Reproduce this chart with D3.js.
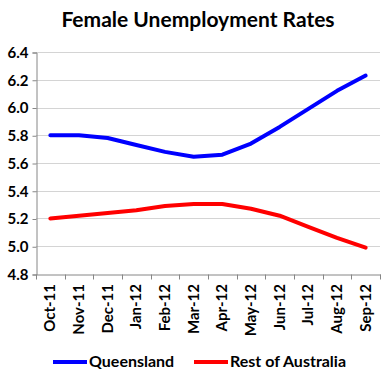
<!DOCTYPE html>
<html>
<meta charset="UTF-8" />
<script src="https://cdn.jsdelivr.net/npm/d3@7/dist/d3.min.js"></script>
<style>
*{margin:0; padding:0;}
body{background:#fff;}
text{font-family:Lato, "Open Sans", sans-serif; font-weight:bold;}
</style>
<body>
<div id="chart"></div>
<script>
var months = ["Oct-11","Nov-11","Dec-11","Jan-12","Feb-12","Mar-12","Apr-12","May-12","Jun-12","Jul-12","Aug-12","Sep-12"];
var queensland = [5.80,5.80,5.78,5.73,5.68,5.645,5.66,5.74,5.86,5.99,6.12,6.23];
var restOfAus = [5.20,5.22,5.24,5.26,5.29,5.305,5.305,5.27,5.22,5.14,5.06,4.99];
var yTicks = [4.8,5.0,5.2,5.4,5.6,5.8,6.0,6.2,6.4];

var width = 385, height = 375;
var mLeft = 36, mRight = 380, mTop = 52, mBottom = 274;

var svg = d3.select("#chart").append("svg")
	.attr("width", width)
	.attr("height", height);

var x = d3.scaleBand().domain(months).range([mLeft, mRight]);
var y = d3.scaleLinear().domain([4.8, 6.4]).range([mBottom, mTop]);

// gridlines
svg.append("g").selectAll("line").data(yTicks.slice(1)).enter().append("line")
	.attr("x1", mLeft).attr("x2", mRight)
	.attr("y1", function(d){return Math.round(y(d))+0.5;})
	.attr("y2", function(d){return Math.round(y(d))+0.5;})
	.style("stroke", "#d4d4d4").style("stroke-width", 1);

// y axis
var ya = svg.append("g")
	.attr("transform", "translate(" + (mLeft+0.5) + ",0.5)")
	.call(d3.axisLeft(y).tickValues(yTicks).tickFormat(d3.format(".1f")).tickSize(4).tickPadding(4));
ya.selectAll("text").style("font-size", "15px").style("fill", "#000");

// x axis
var xa = svg.append("g")
	.attr("transform", "translate(0.5," + (mBottom+0.5) + ")")
	.call(d3.axisBottom(x).tickSize(0).tickFormat(""));
xa.selectAll(".tick").remove();
xa.append("g").selectAll("line").data(months.concat(["end"])).enter().append("line")
	.attr("x1", function(d,i){return Math.round(mLeft + i*x.step());})
	.attr("x2", function(d,i){return Math.round(mLeft + i*x.step());})
	.attr("y1", 0).attr("y2", 5)
	.style("stroke", "#868686");
svg.selectAll(".domain").style("stroke", "#868686");
ya.selectAll(".tick line").style("stroke", "#868686");

svg.append("g").selectAll("text").data(months).enter().append("text")
	.attr("transform", function(d){return "translate(" + (x(d)+x.bandwidth()/2+5) + "," + (mBottom+10) + ") rotate(-90)";})
	.attr("text-anchor", "end")
	.style("font-size", "15px")
	.text(function(d){return d;});

// lines
var line = d3.line()
	.x(function(d,i){return x(months[i]) + x.bandwidth()/2;})
	.y(function(d){return y(d);});

svg.append("path").datum(queensland).attr("d", line)
	.style("fill", "none").style("stroke", "#0000ff").style("stroke-width", 4)
	.style("stroke-linecap", "round").style("stroke-linejoin", "round");
svg.append("path").datum(restOfAus).attr("d", line)
	.style("fill", "none").style("stroke", "#ff0000").style("stroke-width", 4)
	.style("stroke-linecap", "round").style("stroke-linejoin", "round");

// title
svg.append("text")
	.attr("x", 198).attr("y", 27)
	.attr("text-anchor", "middle")
	.style("font-size", "21px")
	.text("Female Unemployment Rates");

// legend
var legend = [["Queensland","#0000ff",53],["Rest of Australia","#ff0000",194]];
legend.forEach(function(l){
	svg.append("line")
		.attr("x1", l[2]).attr("x2", l[2]+34)
		.attr("y1", 362).attr("y2", 362)
		.style("stroke", l[1]).style("stroke-width", 4);
	svg.append("text")
		.attr("x", l[2]+36).attr("y", 367)
		.style("font-size", "16px")
		.text(l[0]);
});
</script>
</body>
</html>
